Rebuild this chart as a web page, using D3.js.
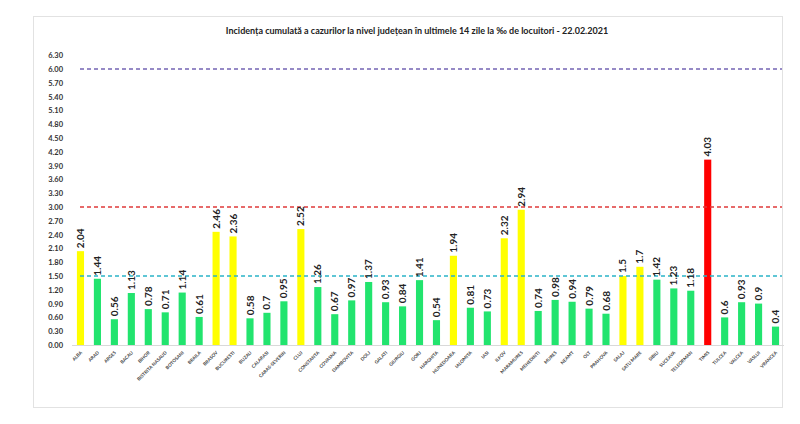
<!DOCTYPE html>
<html>
<head>
<meta charset="utf-8">
<script src="https://cdn.jsdelivr.net/npm/d3@7"></script>
<style>
  body { margin: 0; background: #fff; }
  text { font-family: Lato, "Open Sans", sans-serif; }
</style>
</head>
<body>
<svg id="chart"></svg>
<script>
var judete = ['ALBA','ARAD','ARGES','BACAU','BIHOR','BISTRITA NASAUD','BOTOSANI','BRAILA','BRASOV','BUCURESTI',
  'BUZAU','CALARASI','CARAS-SEVERIN','CLUJ','CONSTANTA','COVASNA','DAMBOVITA','DOLJ','GALATI','GIURGIU',
  'GORJ','HARGHITA','HUNEDOARA','IALOMITA','IASI','ILFOV','MARAMURES','MEHEDINTI','MURES','NEAMT',
  'OLT','PRAHOVA','SALAJ','SATU MARE','SIBIU','SUCEAVA','TELEORMAN','TIMIS','TULCEA','VALCEA','VASLUI','VRANCEA']
var incidenta = [2.04,1.44,0.56,1.13,0.78,0.71,1.14,0.61,2.46,2.36,
  0.58,0.7,0.95,2.52,1.26,0.67,0.97,1.37,0.93,0.84,
  1.41,0.54,1.94,0.81,0.73,2.32,2.94,0.74,0.98,0.94,
  0.79,0.68,1.5,1.7,1.42,1.23,1.18,4.03,0.6,0.93,0.9,0.4]
var yTicks = d3.range(0, 64, 3).map(function(d){ return d/10 })
var praguri = [1.5, 3, 6]
var prag_culori = ['#2ab4c8', '#e03a3a', '#7464b4']

var width = 800, height = 424
var svg = d3.select('#chart').attr('width', width).attr('height', height)

// chenar
svg.append('rect')
  .attr('x', 33.5).attr('y', 16.5)
  .attr('width', 749).attr('height', 391)
  .attr('fill', '#fff').attr('stroke', '#e2e2e2')

svg.append('text')
  .attr('x', 417).attr('y', 34)
  .attr('text-anchor', 'middle')
  .attr('font-size', 9).attr('font-weight', 'bold').attr('fill', '#222')
  .text('Incidența cumulată a cazurilor la nivel județean în ultimele 14 zile la ‰ de locuitori - 22.02.2021')

var x = d3.scaleBand().domain(judete).range([72, 784]).paddingInner(0.58).paddingOuter(0.29)
var y = d3.scaleLinear().domain([0, 6.3]).range([345, 55.2])

// axa y (doar etichete)
svg.append('g')
  .attr('transform', 'translate(66,0)')
  .call(d3.axisLeft(y).tickValues(yTicks).tickFormat(d3.format('.2f')).tickSize(0))
  .call(function(g){ g.select('.domain').remove() })
  .selectAll('text')
    .attr('font-size', 7.5).attr('font-weight', 'bold').attr('fill', '#333')
    .attr('font-family', 'Lato, sans-serif')

// linia de baza
svg.append('line')
  .attr('x1', 72).attr('x2', 784)
  .attr('y1', y(0) + 0.5).attr('y2', y(0) + 0.5)
  .attr('stroke', '#d9d9d9')

function culoare(v){
  if (v > 3) return '#ff0000'
  if (v >= 1.5) return '#ffff00'
  return '#22e46e'
}

svg.append('g').selectAll('rect')
  .data(incidenta)
  .join('rect')
    .attr('x', function(d, i){ return x(judete[i]) })
    .attr('width', x.bandwidth())
    .attr('y', function(d){ return y(d) })
    .attr('height', function(d){ return y(0) - y(d) })
    .attr('fill', culoare)

// praguri
svg.append('g').selectAll('line')
  .data(praguri)
  .join('line')
    .attr('x1', 80).attr('x2', 782)
    .attr('y1', function(d){ return y(d) }).attr('y2', function(d){ return y(d) })
    .attr('stroke', function(d, i){ return prag_culori[i] })
    .attr('stroke-width', 1.4)
    .attr('stroke-dasharray', '4,3')

// valori
svg.append('g').selectAll('text')
  .data(incidenta)
  .join('text')
    .attr('transform', function(d, i){
      return 'translate(' + (x(judete[i]) + x.bandwidth()/2 + 3.5) + ',' + (y(d) - 3) + ') rotate(-90)'
    })
    .attr('font-size', 10).attr('font-weight', 'bold').attr('fill', '#222')
    .text(function(d){ return d })

// axa x
svg.append('g').selectAll('text')
  .data(judete)
  .join('text')
    .attr('transform', function(d){
      return 'translate(' + (x(d) + x.bandwidth()/2 + 2) + ',' + (y(0) + 8) + ') rotate(-45)'
    })
    .attr('text-anchor', 'end')
    .attr('font-size', 4.6).attr('font-weight', 'bold').attr('fill', '#444')
    .text(function(d){ return d })
</script>
</body>
</html>
